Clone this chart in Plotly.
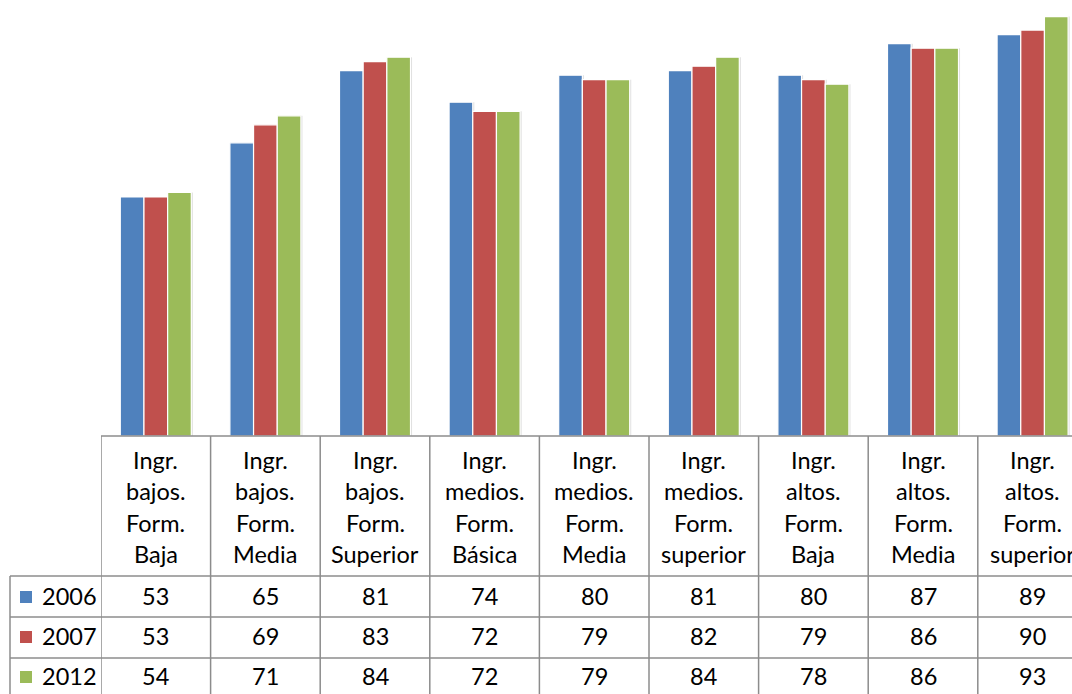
import plotly.graph_objects as go

categories = [
    ["Ingr.", "bajos.", "Form.", "Baja"],
    ["Ingr.", "bajos.", "Form.", "Media"],
    ["Ingr.", "bajos.", "Form.", "Superior"],
    ["Ingr.", "medios.", "Form.", "Básica"],
    ["Ingr.", "medios.", "Form.", "Media"],
    ["Ingr.", "medios.", "Form.", "superior"],
    ["Ingr.", "altos.", "Form.", "Baja"],
    ["Ingr.", "altos.", "Form.", "Media"],
    ["Ingr.", "altos.", "Form.", "superior"],
]
series_names = ["2006", "2007", "2012"]
v2006 = [53, 65, 81, 74, 80, 81, 80, 87, 89]
v2007 = [53, 69, 83, 72, 79, 82, 79, 86, 90]
v2012 = [54, 71, 84, 72, 79, 84, 78, 86, 93]
colors = ["#4F81BD", "#C0504D", "#9BBB59"]

W, H = 1072, 694
plot_left, plot_bottom = 101, 436
cat_w = 109.6
x_end = -0.5 + (W - plot_left) / cat_w
px_per_unit = 4.51
y_top = plot_bottom / px_per_unit

xs = list(range(len(categories)))
series = [v2006, v2007, v2012]
bw = 0.216
offsets = [-0.324, -0.108, 0.108]

fig = go.Figure()
# soft shadows
for vals, off in zip(series, offsets):
    fig.add_trace(go.Bar(x=xs, y=vals, width=bw, offset=off + 0.014,
                         marker=dict(color="rgba(0,0,0,0.13)", line=dict(width=0)),
                         showlegend=False, hoverinfo="skip"))
for name, vals, col, off in zip(series_names, series, colors, offsets):
    fig.add_trace(go.Bar(x=xs, y=vals, name=name, width=bw, offset=off,
                         marker=dict(color=col, line=dict(color="white", width=1.2)),
                         showlegend=False))

fig.update_layout(
    width=W, height=H, barmode="overlay",
    margin=dict(l=plot_left, r=0, t=0, b=H - plot_bottom, pad=0),
    plot_bgcolor="white", paper_bgcolor="white",
    xaxis=dict(range=[-0.5, x_end], showticklabels=False, showgrid=False,
               zeroline=False, showline=False, ticks=""),
    yaxis=dict(range=[0, y_top], showticklabels=False, showgrid=False,
               zeroline=False, showline=False, ticks=""),
    font=dict(family="Lato", size=23.5, color="black"),
)

def py2paper(py):
    return (plot_bottom - py) / plot_bottom

def px2paper(px):
    return (px - plot_left) / (W - plot_left)

grid = "#8C8C8C"
shapes = []
header_bottom = 576
row_lines = [576, 617, 658, 699]
shapes.append(dict(type="line", xref="paper", yref="paper", x0=0, x1=1.05,
                   y0=0, y1=0, line=dict(color=grid, width=1.5)))
for ry in row_lines:
    shapes.append(dict(type="line", xref="paper", yref="paper", x0=px2paper(10), x1=1.05,
                       y0=py2paper(ry), y1=py2paper(ry), line=dict(color=grid, width=1.5)))
shapes.append(dict(type="line", xref="paper", yref="paper", x0=px2paper(10), x1=px2paper(10),
                   y0=py2paper(header_bottom), y1=py2paper(700), line=dict(color=grid, width=1.5)))
for k in range(len(categories) + 1):
    shapes.append(dict(type="line", xref="x", yref="paper", x0=k - 0.5, x1=k - 0.5,
                       y0=0, y1=py2paper(700), line=dict(color=grid, width=1.5)))

annotations = []
header_ys = [460, 491, 523, 554]
for i, lines in enumerate(categories):
    for ln, yy in zip(lines, header_ys):
        annotations.append(dict(x=i, y=py2paper(yy), xref="x", yref="paper", text=ln,
                                showarrow=False, xanchor="center", yanchor="middle"))
row_ys = [596, 636, 676]
for name, vals, col, ry in zip(series_names, series, colors, row_ys):
    for i, v in enumerate(vals):
        annotations.append(dict(x=i, y=py2paper(ry), xref="x", yref="paper", text=str(v),
                                showarrow=False, xanchor="center", yanchor="middle"))
    annotations.append(dict(x=px2paper(40), y=py2paper(ry), xref="paper", yref="paper",
                            text=name, showarrow=False, xanchor="left", yanchor="middle"))
    shapes.append(dict(type="rect", xref="paper", yref="paper",
                       x0=px2paper(20), x1=px2paper(32),
                       y0=py2paper(ry - 5), y1=py2paper(ry + 7),
                       fillcolor=col, line=dict(width=0)))

fig.update_layout(shapes=shapes, annotations=annotations)
fig.write_html("out.html")
